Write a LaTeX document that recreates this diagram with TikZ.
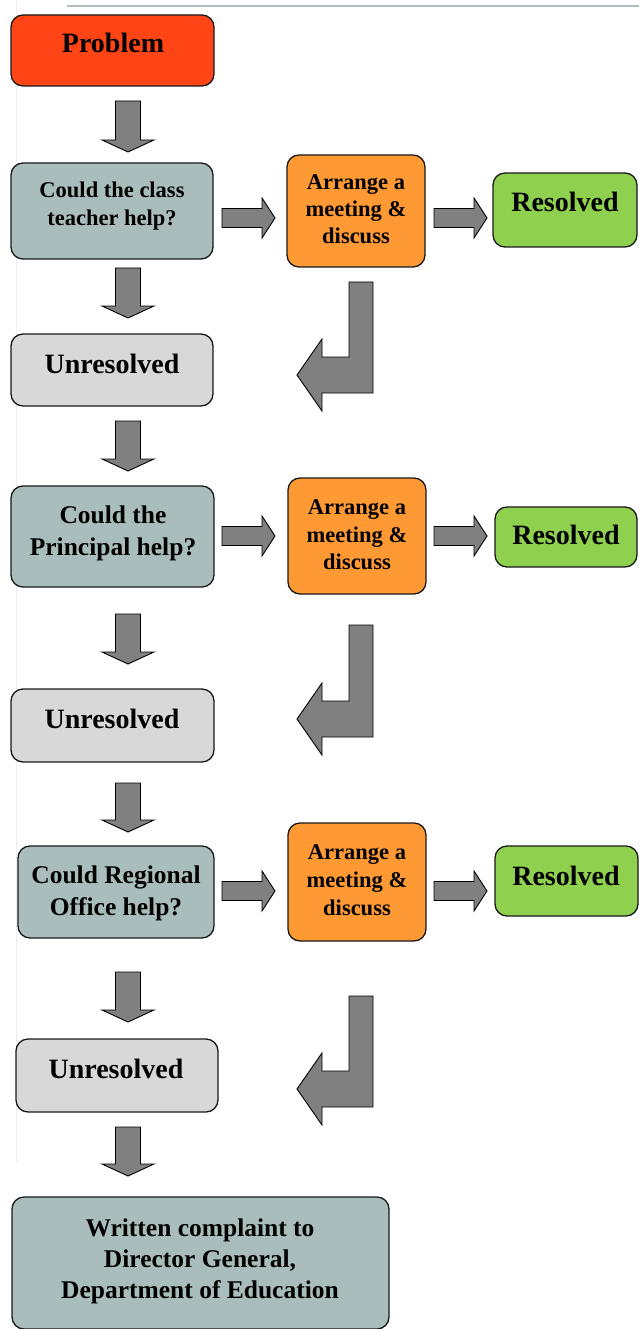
\documentclass[tikz,border=0pt]{standalone}
\usepackage{fontspec}
\setmainfont{Liberation Serif}
\definecolor{cred}{HTML}{FF4515}
\definecolor{cteal}{HTML}{AABDBD}
\definecolor{corange}{HTML}{FF9933}
\definecolor{cgreen}{HTML}{8FD14F}
\definecolor{cgrey}{HTML}{D8D8D8}
\definecolor{carrow}{HTML}{808080}
\definecolor{cline}{HTML}{B0BEC0}
\tikzset{
  box/.style={draw=black!90, line width=1.3pt, rounded corners=12pt},
  arr/.style={draw=black, line width=0.9pt, fill=carrow, line join=miter},
  txt/.style={inner sep=0pt, anchor=base, font=\bfseries},
  big/.style={txt, font=\fontsize{28}{28}\selectfont\bfseries},
  med/.style={txt, font=\fontsize{25.5}{25.5}\selectfont\bfseries},
  sml/.style={txt, font=\fontsize{22.5}{22.5}\selectfont\bfseries},
}
% down arrow: centre x, top y, tip y
\newcommand{\downarr}[3]{%
  \draw[arr] (#1-12.5,#2) -- (#1+12.5,#2) -- (#1+12.5,#3-12) -- (#1+26,#3-12)
    -- (#1,#3) -- (#1-26,#3-12) -- (#1-12.5,#3-12) -- cycle;}
% right arrow: left x, centre y
\newcommand{\rightarr}[2]{%
  \draw[arr] (#1,#2-9.5) -- (#1+40,#2-9.5) -- (#1+40,#2-20) -- (#1+53,#2)
    -- (#1+40,#2+20) -- (#1+40,#2+9.5) -- (#1,#2+9.5) -- cycle;}
% bent arrow: top y, bottom y of arm
\newcommand{\bentarr}[2]{%
  \draw[arr] (349,#1) -- (373,#1) -- (373,#2) -- (322,#2) -- (322,#2+18)
    -- (297,#2-18) -- (322,#2-54) -- (322,#2-36) -- (349,#2-36) -- cycle;}
\begin{document}
\begin{tikzpicture}[x=1pt,y=-1pt]
\useasboundingbox (0,0) rectangle (639,1329);
\fill[white] (0,0) rectangle (639,1329);
% faint page lines
\draw[cline, line width=1.5pt] (67,6) -- (639,6);
\draw[black!7, line width=1pt] (16,0) -- (16,1162);

% boxes
\node[box, fill=cred, minimum width=203pt, minimum height=71pt] (prob) at (112.5,50.5) {};
\node[box, fill=cteal, minimum width=202pt, minimum height=96pt] (q1) at (112,211) {};
\node[box, fill=corange, minimum width=138pt, minimum height=112pt] (o1) at (356,211) {};
\node[box, fill=cgreen, minimum width=144pt, minimum height=74pt] (g1) at (565,210) {};
\node[box, fill=cgrey, minimum width=202pt, minimum height=72pt] (u1) at (112,370) {};

\node[box, fill=cteal, minimum width=203pt, minimum height=101pt] (q2) at (112.5,536.5) {};
\node[box, fill=corange, minimum width=138pt, minimum height=116pt] (o2) at (357,536) {};
\node[box, fill=cgreen, minimum width=142pt, minimum height=60pt] (g2) at (566,537) {};
\node[box, fill=cgrey, minimum width=203pt, minimum height=73pt] (u2) at (112.5,725.5) {};

\node[box, fill=cteal, minimum width=196pt, minimum height=92pt] (q3) at (116,892) {};
\node[box, fill=corange, minimum width=138pt, minimum height=118pt] (o3) at (357,882) {};
\node[box, fill=cgreen, minimum width=143pt, minimum height=70pt] (g3) at (566.5,881) {};
\node[box, fill=cgrey, minimum width=202pt, minimum height=73pt] (u3) at (117,1075.5) {};

\node[box, fill=cteal, minimum width=377pt, minimum height=132pt] (fin) at (200.5,1263) {};

% texts
\node[big] (tprob) at (113,53) {Problem};
\node[sml] (tq1a) at (112,198) {Could the class};
\node[sml] (tq1b) at (112,226) {teacher help?};
\node[sml] (to1a) at (356,190) {Arrange a};
\node[sml] (to1b) at (356,217) {meeting \&};
\node[sml] (to1c) at (356,244) {discuss};
\node[big] (tg1) at (565,212) {Resolved};
\node[big] (tu1) at (112,373) {Unresolved};

\node[med] (tq2a) at (113,523) {Could the};
\node[med] (tq2b) at (113,555) {Principal help?};
\node[sml] (to2a) at (357,514) {Arrange a};
\node[sml] (to2b) at (357,542) {meeting \&};
\node[sml] (to2c) at (357,569) {discuss};
\node[big] (tg2) at (566,544) {Resolved};
\node[big] (tu2) at (112,728) {Unresolved};

\node[med] (tq3a) at (116,883) {Could Regional};
\node[med] (tq3b) at (116,915) {Office help?};
\node[sml] (to3a) at (357,859) {Arrange a};
\node[sml] (to3b) at (357,887) {meeting \&};
\node[sml] (to3c) at (357,915) {discuss};
\node[big] (tg3) at (566,885) {Resolved};
\node[big] (tu3) at (116,1078) {Unresolved};

\node[med] (tfa) at (200,1236) {Written complaint to};
\node[med] (tfb) at (200,1267) {Director General,};
\node[med] (tfc) at (200,1298) {Department of Education};

% arrows
\downarr{128}{101}{152}
\downarr{128}{268}{318}
\downarr{128}{421}{471}
\downarr{128}{614}{664}
\downarr{128}{783}{832}
\downarr{128}{972}{1022}
\downarr{128}{1127}{1176}

\rightarr{222}{218}
\rightarr{434}{218}
\rightarr{222}{536}
\rightarr{434}{536}
\rightarr{222}{891}
\rightarr{434}{891}

\bentarr{282}{393}
\bentarr{625}{737}
\bentarr{996}{1107}
\end{tikzpicture}
\end{document}
